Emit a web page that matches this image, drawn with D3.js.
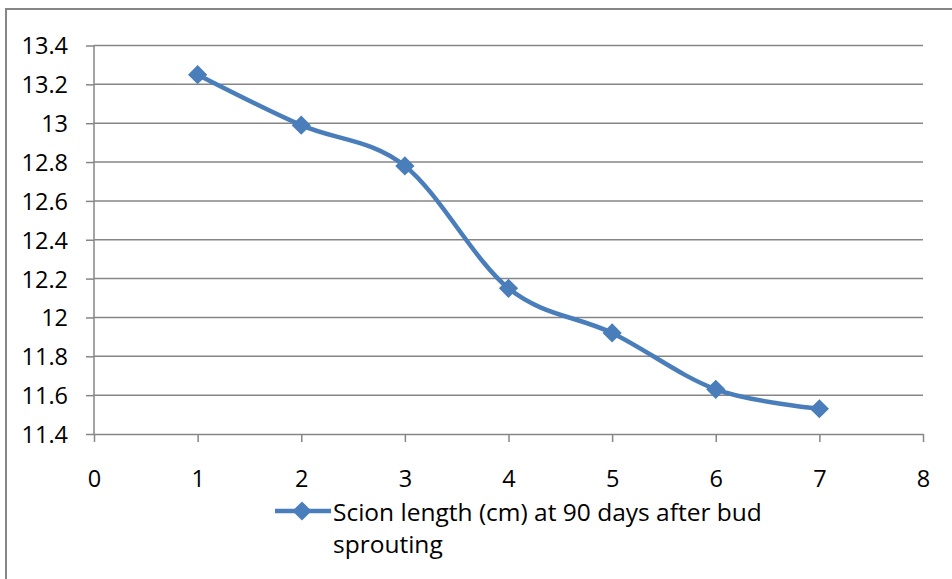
<!DOCTYPE html>
<html>
<head>
<meta charset="utf-8">
<script src="https://cdn.jsdelivr.net/npm/d3@7"></script>
<style>
  body { margin: 0; background: #fff; }
  svg text { font-family: "Open Sans", sans-serif; fill: #000; }
</style>
</head>
<body>
<svg id="chart" width="952" height="579"></svg>
<script>
// data
const xValues = [1, 2, 3, 4, 5, 6, 7];
const scionLength = [13.25, 12.99, 12.78, 12.15, 11.92, 11.63, 11.53];
const yTicks = [11.4, 11.6, 11.8, 12, 12.2, 12.4, 12.6, 12.8, 13, 13.2, 13.4];
const xTicks = [0, 1, 2, 3, 4, 5, 6, 7, 8];
const seriesName = ["Scion length (cm) at 90 days after bud", "sprouting"];

const margin = {top: 45.5, left: 94, right: 29, bottom: 145};
const width = 952, height = 579;
const blue = "#4a7ebb", gray = "#868686";

const svg = d3.select("#chart");

// outer chart frame (runs past right/bottom edge)
svg.append("rect")
    .attr("x", 6).attr("y", 9)
    .attr("width", 960).attr("height", 600)
    .attr("fill", "none")
    .attr("stroke", gray)
    .attr("stroke-width", 2);

const x = d3.scaleLinear().domain([0, 8]).range([margin.left, width - margin.right]);
const y = d3.scaleLinear().domain([11.4, 13.4]).range([height - margin.bottom, margin.top]);

// gridlines
svg.append("g")
    .selectAll("line")
    .data(yTicks.slice(1))
    .join("line")
    .attr("x1", margin.left).attr("x2", x(8))
    .attr("y1", d => y(d)).attr("y2", d => y(d))
    .attr("stroke", gray)
    .attr("stroke-width", 1.5);

// y axis
const yAxis = svg.append("g")
    .attr("transform", "translate(" + margin.left + ",0)")
    .call(d3.axisLeft(y).tickValues(yTicks).tickSize(8).tickPadding(18)
        .tickFormat(d => d3.format("")(+d.toFixed(1))));

// x axis
const xAxis = svg.append("g")
    .attr("transform", "translate(0," + y(11.4) + ")")
    .call(d3.axisBottom(x).tickValues(xTicks).tickSize(8).tickPadding(28).tickSizeOuter(0));

[yAxis, xAxis].forEach(function(a) {
    a.select(".domain").attr("stroke", gray).attr("stroke-width", 1.5);
    a.selectAll(".tick line").attr("stroke", gray).attr("stroke-width", 1.5);
    a.selectAll(".tick text")
        .style("font-family", "'Open Sans', sans-serif")
        .style("font-size", "23.5px")
        .attr("fill", "#000");
});
yAxis.select(".domain").attr("d", "M0," + y(11.4) + "V" + y(13.4));
yAxis.selectAll(".tick text").attr("dy", "0.36em");

const points = xValues.map((d, i) => ({x: d, y: scionLength[i]}));

const line = d3.line()
    .x(d => x(d.x))
    .y(d => y(d.y))
    .curve(d3.curveCardinal.tension(0));

svg.append("path")
    .datum(points)
    .attr("d", line)
    .attr("fill", "none")
    .attr("stroke", blue)
    .attr("stroke-width", 4.5)
    .attr("stroke-linejoin", "round");

const diamond = d3.symbol().type(d3.symbolSquare).size(185);

svg.append("g")
    .selectAll("path")
    .data(points)
    .join("path")
    .attr("d", diamond)
    .attr("transform", d => "translate(" + x(d.x) + "," + y(d.y) + ") rotate(45)")
    .attr("fill", blue);

// legend
const legend = svg.append("g").attr("transform", "translate(275,511)");
legend.append("line")
    .attr("x1", 0).attr("x2", 56)
    .attr("stroke", blue).attr("stroke-width", 4.5);
legend.append("path")
    .attr("d", diamond)
    .attr("transform", "translate(27,0) rotate(45)")
    .attr("fill", blue);
legend.append("text")
    .style("font-size", "24.5px")
    .selectAll("tspan")
    .data(seriesName)
    .join("tspan")
    .attr("x", 58)
    .attr("y", (d, i) => 10 + i * 32)
    .text(d => d);
</script>
</body>
</html>
